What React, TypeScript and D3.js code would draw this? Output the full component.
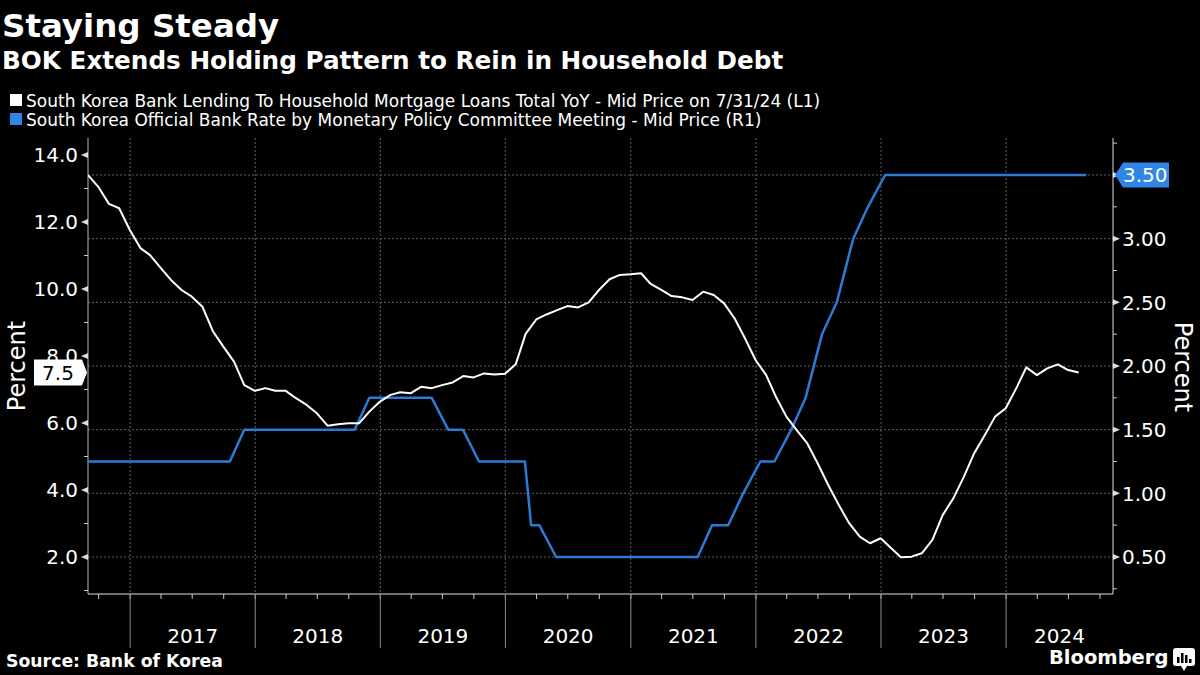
import React from 'react';
import * as d3 from 'd3';

// ---------- DATA ----------
// South Korea bank lending to household mortgage loans, YoY % (month-end)
const mortgage2016 = [13.4, 13.05, 12.54, 12.41, 11.76]; // Aug-Dec
const mortgage2017 = [11.22, 11.01, 10.63, 10.27, 9.97, 9.77, 9.47, 8.73, 8.28, 7.83, 7.13, 6.96];
const mortgage2018 = [7.04, 6.96, 6.96, 6.74, 6.54, 6.29, 5.92, 5.96, 5.99, 5.99, 6.34, 6.64];
const mortgage2019 = [6.84, 6.92, 6.89, 7.08, 7.04, 7.13, 7.21, 7.4, 7.36, 7.48, 7.45, 7.47];
const mortgage2020 = [7.75, 8.66, 9.09, 9.24, 9.37, 9.49, 9.45, 9.6, 9.97, 10.29, 10.42, 10.44];
const mortgage2021 = [10.47, 10.15, 9.97, 9.79, 9.75, 9.67, 9.92, 9.82, 9.57, 9.12, 8.53, 7.88];
const mortgage2022 = [7.43, 6.79, 6.19, 5.79, 5.39, 4.8, 4.15, 3.55, 3.01, 2.61, 2.41, 2.56];
const mortgage2023 = [2.26, 1.99, 2.01, 2.11, 2.51, 3.25, 3.75, 4.4, 5.1, 5.64, 6.19, 6.44];
const mortgage2024 = [7.04, 7.66, 7.43, 7.63, 7.75, 7.58, 7.51]; // Jan-Jul

const mortgageYears = [
  { year: 2016, firstMonth: 7, values: mortgage2016 },
  { year: 2017, firstMonth: 0, values: mortgage2017 },
  { year: 2018, firstMonth: 0, values: mortgage2018 },
  { year: 2019, firstMonth: 0, values: mortgage2019 },
  { year: 2020, firstMonth: 0, values: mortgage2020 },
  { year: 2021, firstMonth: 0, values: mortgage2021 },
  { year: 2022, firstMonth: 0, values: mortgage2022 },
  { year: 2023, firstMonth: 0, values: mortgage2023 },
  { year: 2024, firstMonth: 0, values: mortgage2024 },
];

// BOK base rate by Monetary Policy Committee meeting
const meetingDates = [
  '2016-08-11', '2016-09-09', '2016-10-13', '2016-11-11', '2016-12-15',
  '2017-01-13', '2017-02-23', '2017-04-13', '2017-05-25', '2017-07-13', '2017-08-31', '2017-10-19', '2017-11-30',
  '2018-01-18', '2018-02-27', '2018-04-12', '2018-05-24', '2018-07-12', '2018-08-31', '2018-10-18', '2018-11-30',
  '2019-01-24', '2019-02-28', '2019-04-18', '2019-05-31', '2019-07-18', '2019-08-30', '2019-10-16', '2019-11-29',
  '2020-01-17', '2020-02-27', '2020-03-16', '2020-04-09', '2020-05-28', '2020-07-16', '2020-08-27', '2020-10-15', '2020-11-26',
  '2021-01-15', '2021-02-25', '2021-04-15', '2021-05-27', '2021-07-15', '2021-08-26', '2021-10-12', '2021-11-25',
  '2022-01-14', '2022-02-24', '2022-04-14', '2022-05-26', '2022-07-13', '2022-08-25', '2022-10-12', '2022-11-24',
  '2023-01-13', '2023-02-23', '2023-04-11', '2023-05-25', '2023-07-13', '2023-08-24', '2023-10-19', '2023-11-30',
  '2024-01-11', '2024-02-22', '2024-04-12', '2024-05-23', '2024-07-11', '2024-08-22',
];
const policyRates = [
  1.25, 1.25, 1.25, 1.25, 1.25,
  1.25, 1.25, 1.25, 1.25, 1.25, 1.25, 1.25, 1.5,
  1.5, 1.5, 1.5, 1.5, 1.5, 1.5, 1.5, 1.75,
  1.75, 1.75, 1.75, 1.75, 1.5, 1.5, 1.25, 1.25,
  1.25, 1.25, 0.75, 0.75, 0.5, 0.5, 0.5, 0.5, 0.5,
  0.5, 0.5, 0.5, 0.5, 0.5, 0.75, 0.75, 1.0,
  1.25, 1.25, 1.5, 1.75, 2.25, 2.5, 3.0, 3.25,
  3.5, 3.5, 3.5, 3.5, 3.5, 3.5, 3.5, 3.5,
  3.5, 3.5, 3.5, 3.5, 3.5, 3.5,
];

const leftTicks = [2, 4, 6, 8, 10, 12, 14];
const leftMinorTicks = [1, 3, 5, 7, 9, 11, 13];
const rightTicks = [0.5, 1.0, 1.5, 2.0, 2.5, 3.0, 3.5];
const rightMinorTicks = [0.25, 0.75, 1.25, 1.75, 2.25, 2.75, 3.25, 3.75];
const yearLabels = ['2017', '2018', '2019', '2020', '2021', '2022', '2023', '2024'];

const TITLE = 'Staying Steady';
const SUBTITLE = 'BOK Extends Holding Pattern to Rein in Household Debt';
const LEGEND_1 = 'South Korea Bank Lending To Household Mortgage Loans Total YoY - Mid Price on 7/31/24 (L1)';
const LEGEND_2 = 'South Korea Official Bank Rate by Monetary Policy Committee Meeting - Mid Price (R1)';
const SOURCE = 'Source: Bank of Korea';

// ---------- STYLE ----------
const W = 1200;
const H = 675;
const PL = 88;
const PR = 1113;
const PT = 138;
const PB = 594;
const BLUE = '#2b7bd6';
const BLUE_BOX = '#2f86e6';
const FONT = '"DejaVu Sans", sans-serif';
const FONT_BOLD = '"DejaVu Sans", sans-serif';

export default function App() {
  const parse = d3.timeParse('%Y-%m-%d');
  const x = d3
    .scaleTime()
    .domain([new Date(2016, 7, 31), new Date(2024, 10, 8)])
    .range([PL, PR]);
  const yL = d3.scaleLinear().domain([0.8955, 14.507]).range([PB, PT]);
  const yR = d3.scaleLinear().domain([0.2094, 3.7906]).range([PB, PT]);

  const mortgage: { d: Date; v: number }[] = [];
  mortgageYears.forEach((yr) => {
    yr.values.forEach((v, i) => {
      mortgage.push({ d: new Date(yr.year, yr.firstMonth + i + 1, 0), v });
    });
  });
  const policy = meetingDates.map((s, i) => ({ d: parse(s) as Date, v: policyRates[i] }));

  const lineL = d3
    .line<{ d: Date; v: number }>()
    .x((p) => x(p.d))
    .y((p) => yL(p.v));
  const lineR = d3
    .line<{ d: Date; v: number }>()
    .x((p) => x(p.d))
    .y((p) => yR(p.v));

  const domain = x.domain();
  const quarters = d3.timeMonth.every(3)!.range(domain[0], domain[1]);
  const years = d3.timeYear.range(domain[0], domain[1]);
  const yearBounds = [...years.map((d) => x(d)), PR];

  const lastM = mortgage[mortgage.length - 1];
  const lastP = policy[policy.length - 1];
  const yLast = yL(lastM.v);
  const yLastR = yR(lastP.v);

  return (
    <svg
      width={W}
      height={H}
      style={{ position: 'absolute', left: 0, top: 0, background: '#000', display: 'block' }}
    >
      <rect x={0} y={0} width={W} height={H} fill="#000" />
      <defs>
        <clipPath id="plot">
          <rect x={PL} y={PT} width={PR - PL} height={PB - PT} />
        </clipPath>
      </defs>

      {/* Titles */}
      <text x={2} y={37} fill="#fff" fontFamily={FONT_BOLD} fontWeight="bold" fontSize={32.5}>
        {TITLE}
      </text>
      <text x={2} y={68.5} fill="#fff" fontFamily={FONT_BOLD} fontWeight="bold" fontSize={24.7}>
        {SUBTITLE}
      </text>

      {/* Legend */}
      <rect x={10} y={94} width={12} height={12} fill="#fff" />
      <text x={26} y={106.5} fill="#fff" fontFamily={FONT} fontSize={17}>
        {LEGEND_1}
      </text>
      <rect x={10} y={113} width={12} height={12} fill={BLUE_BOX} />
      <text x={26} y={125.5} fill="#fff" fontFamily={FONT} fontSize={17}>
        {LEGEND_2}
      </text>

      {/* Grid */}
      <g stroke="#5f5f5f" strokeWidth={1} strokeDasharray="2,2">
        {rightTicks.map((t) => (
          <line key={'h' + t} x1={PL} x2={PR} y1={yR(t)} y2={yR(t)} />
        ))}
        {years.map((d, i) => (
          <line key={'v' + i} x1={x(d)} x2={x(d)} y1={PT} y2={PB} />
        ))}
      </g>

      {/* Axes lines */}
      <line x1={PL} x2={PL} y1={PT} y2={PB} stroke="#bbb" strokeWidth={1} />
      <line x1={PR} x2={PR} y1={PT} y2={PB} stroke="#ddd" strokeWidth={1} />
      <line x1={PL} x2={PR} y1={PB} y2={PB} stroke="#ddd" strokeWidth={1} />

      {/* Left ticks */}
      {leftMinorTicks.map((t) => (
        <line key={'lm' + t} x1={PL - 4} x2={PL} y1={yL(t)} y2={yL(t)} stroke="#ccc" />
      ))}
      {leftTicks.map((t) => (
        <g key={'lt' + t}>
          <path d={`M${PL},${yL(t) - 3} L${PL},${yL(t) + 3} L${PL - 7},${yL(t)} Z`} fill="#ddd" />
          <text
            x={PL - 10}
            y={yL(t)}
            dy="0.36em"
            textAnchor="end"
            fill="#fff"
            fontFamily={FONT}
            fontSize={20}
          >
            {d3.format('.1f')(t)}
          </text>
        </g>
      ))}

      {/* Right ticks */}
      {rightMinorTicks.map((t) => (
        <line key={'rm' + t} x1={PR} x2={PR + 4} y1={yR(t)} y2={yR(t)} stroke="#ccc" />
      ))}
      {rightTicks.map((t) => (
        <g key={'rt' + t}>
          <path d={`M${PR},${yR(t) - 3} L${PR},${yR(t) + 3} L${PR + 7},${yR(t)} Z`} fill="#ddd" />
          <text
            x={PR + 9}
            y={yR(t)}
            dy="0.36em"
            textAnchor="start"
            fill="#fff"
            fontFamily={FONT}
            fontSize={20}
          >
            {d3.format('.2f')(t)}
          </text>
        </g>
      ))}

      {/* X axis ticks */}
      {quarters.map((d, i) => (
        <line key={'q' + i} x1={x(d)} x2={x(d)} y1={PB} y2={PB + 5} stroke="#ccc" />
      ))}
      {years.map((d, i) => (
        <line key={'y' + i} x1={x(d)} x2={x(d)} y1={PB} y2={648} stroke="#888" />
      ))}
      {yearLabels.map((lab, i) => (
        <text
          key={lab}
          x={(yearBounds[i] + yearBounds[i + 1]) / 2}
          y={643}
          textAnchor="middle"
          fill="#fff"
          fontFamily={FONT}
          fontSize={20}
        >
          {lab}
        </text>
      ))}

      {/* Axis titles */}
      <text
        transform="translate(16,366) rotate(-90)"
        textAnchor="middle"
        dy="0.36em"
        fill="#fff"
        fontFamily={FONT}
        fontSize={24}
      >
        Percent
      </text>
      <text
        transform="translate(1184,367) rotate(90)"
        textAnchor="middle"
        dy="0.36em"
        fill="#fff"
        fontFamily={FONT}
        fontSize={24}
      >
        Percent
      </text>

      {/* Lines */}
      <g clipPath="url(#plot)">
        <path d={lineR(policy) || ''} fill="none" stroke={BLUE} strokeWidth={2.5} strokeLinejoin="round" />
        <path d={lineL(mortgage) || ''} fill="none" stroke="#fff" strokeWidth={2} strokeLinejoin="round" />
      </g>

      {/* Last value labels */}
      <path
        d={`M34,${yLast - 13} L82,${yLast - 13} L87,${yLast} L82,${yLast + 13} L34,${yLast + 13} Z`}
        fill="#fff"
      />
      <text x={58} y={yLast} dy="0.36em" textAnchor="middle" fill="#000" fontFamily={FONT} fontSize={20}>
        {d3.format('.1f')(lastM.v)}
      </text>
      <path
        d={`M${PR + 2},${yLastR} L${PR + 10},${yLastR - 12.5} L1169,${yLastR - 12.5} L1169,${yLastR + 12.5} L${PR + 10},${yLastR + 12.5} Z`}
        fill={BLUE_BOX}
      />
      <text x={1123} y={yLastR} dy="0.36em" textAnchor="start" fill="#fff" fontFamily={FONT} fontSize={20}>
        {d3.format('.2f')(lastP.v)}
      </text>

      {/* Footer */}
      <text x={6} y={667} fill="#fff" fontFamily={FONT_BOLD} fontWeight="bold" fontSize={17.3}>
        {SOURCE}
      </text>
      <text x={1049} y={664} fill="#fff" fontFamily={FONT_BOLD} fontWeight="bold" fontSize={19.5}>
        Bloomberg
      </text>
      <g>
        <rect x={1173} y={648} width={22} height={18} rx={3} fill="#fff" />
        <path d="M1181,666 L1184,671 L1187,666 Z" fill="#fff" />
        <rect x={1177} y={657} width={2.5} height={6} fill="#000" />
        <rect x={1181} y={653} width={2.5} height={10} fill="#000" />
        <rect x={1185} y={655} width={2.5} height={8} fill="#000" />
        <rect x={1189} y={659} width={2.5} height={4} fill="#000" />
      </g>
    </svg>
  );
}
